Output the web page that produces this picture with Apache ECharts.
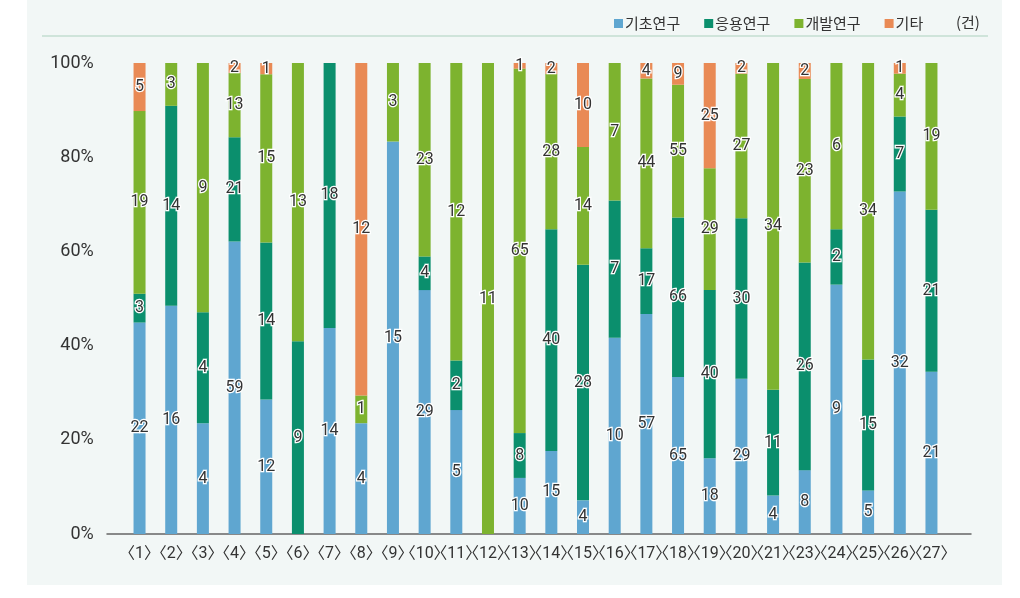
<!DOCTYPE html>
<html>
<head>
<meta charset="utf-8">
<script src="https://cdn.jsdelivr.net/npm/echarts@6/dist/echarts.min.js"></script>
<style>
html,body{margin:0;padding:0;background:#ffffff;}
#main{width:1020px;height:598px;}
</style>
</head>
<body>
<div id="main"></div>
<script>
const categories = ['1','2','3','4','5','6','7','8','9','10','11','12','13','14','15','16','17','18','19','20','21','23','24','25','26','27'];
const seriesNames = ['기초연구','응용연구','개발연구','기타'];
const basic   = [22,16,4,59,12,0,14,4,15,29,5,0,10,15,4,10,57,65,18,29,4,8,9,5,32,21];
const applied = [3,14,4,21,14,9,18,0,0,4,2,0,8,40,28,7,17,66,40,30,11,26,2,15,7,21];
const develop = [19,3,9,13,15,13,0,1,3,23,12,11,65,28,14,7,44,55,29,27,34,23,6,34,4,19];
const other   = [5,0,0,2,1,0,0,12,0,0,0,0,1,2,10,0,4,9,25,2,0,2,0,0,1,0];
const yTicks = [0,20,40,60,80,100];
const unitLabel = '(건)';

const colors = ['#5fa6d0','#0b8f6d','#7db32f','#e98a55'];
const raw = [basic, applied, develop, other];
const totals = categories.map((c,i)=>raw.reduce((s,a)=>s+a[i],0));

const labelFont = 'Roboto, "Noto Sans", "Noto Sans CJK KR", sans-serif';

const series = raw.map((arr,k)=>({
  name: seriesNames[k],
  type: 'bar',
  stack: 'total',
  barWidth: 12,
  itemStyle: {color: colors[k]},
  data: arr.map((v,i)=>({value: v/totals[i]*100, count: v})),
  label: {
    show: true,
    position: 'inside',
    formatter: p => p.data.count > 0 ? String(p.data.count) : '',
    color: '#333333',
    fontSize: 16,
    fontFamily: labelFont,
    textBorderColor: '#ffffff',
    textBorderWidth: 2.5
  },
  emphasis: {disabled: true},
  xAxisIndex: 0, yAxisIndex: 0
}));

const chart = echarts.init(document.getElementById('main'), null, {renderer:'canvas'});
chart.setOption({
  animation: false,
  backgroundColor: '#ffffff',
  graphic: [
    {type:'rect', z:-10, shape:{x:27,y:0,width:975,height:585}, style:{fill:'#f2f7f6'}},
    {type:'line', z:-5, shape:{x1:42,y1:36,x2:988,y2:36}, style:{stroke:'#cfe4da', lineWidth:2}},
    {type:'text', x:956, y:22, style:{text:unitLabel, fill:'#333', font:'15px "Noto Sans CJK KR", sans-serif', verticalAlign:'middle', align:'left'}}
  ],
  legend: {
    left: 609, top: 11,
    itemWidth: 9, itemHeight: 9, itemGap: 24,
    icon: 'rect',
    textStyle: {fontSize: 15, color:'#333', fontFamily:'"Noto Sans CJK KR", sans-serif', padding:[0,0,0,-3]},
    data: seriesNames
  },
  grid: [
    {left: 123.7, right: 72.7, top: 63, bottom: 64},
    {left: 107, right: 49, top: 63, bottom: 64}
  ],
  xAxis: [
    {
      type: 'category', gridIndex: 0,
      data: categories,
      axisLine: {show: false},
      axisTick: {show: false},
      axisLabel: {
        interval: 0, margin: 12,
        formatter: v => '〈' + v + '〉',
        fontSize: 16, color:'#333',
        fontFamily: labelFont
      }
    },
    {
      type: 'value', gridIndex: 1,
      axisLine: {show: true, lineStyle: {color:'#666', width:1.5}},
      axisTick: {show:false}, axisLabel:{show:false}, splitLine:{show:false}
    }
  ],
  yAxis: [
    {
      type: 'value', gridIndex: 0,
      min: yTicks[0], max: yTicks[yTicks.length-1], interval: 20,
      axisLine:{show:false}, axisTick:{show:false}, splitLine:{show:false},
      axisLabel: {formatter:'{value}%', fontSize:18, color:'#333', margin:30, fontFamily: labelFont}
    },
    {type:'value', gridIndex:1, show:false}
  ],
  series: series
});
</script>
</body>
</html>
